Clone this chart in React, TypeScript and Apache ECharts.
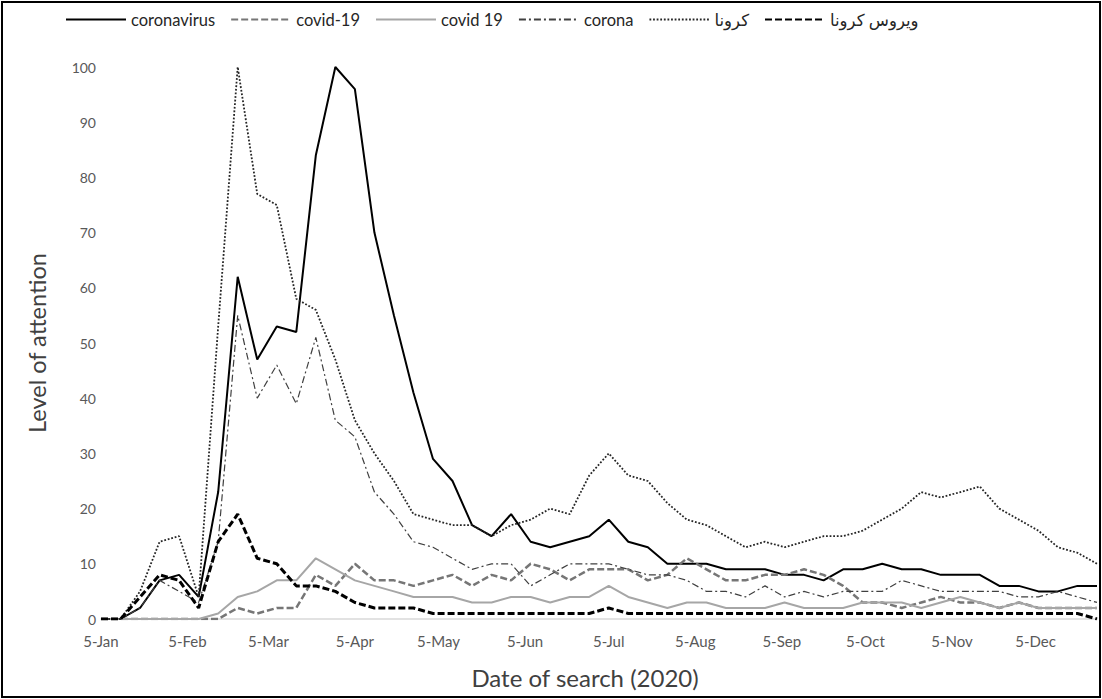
import React, { useEffect, useRef } from "react";
import * as echarts from "echarts";

const weeks = [
  "2020-01-05", "2020-01-12", "2020-01-19", "2020-01-26",
  "2020-02-02", "2020-02-09", "2020-02-16", "2020-02-23",
  "2020-03-01", "2020-03-08", "2020-03-15", "2020-03-22", "2020-03-29",
  "2020-04-05", "2020-04-12", "2020-04-19", "2020-04-26",
  "2020-05-03", "2020-05-10", "2020-05-17", "2020-05-24", "2020-05-31",
  "2020-06-07", "2020-06-14", "2020-06-21", "2020-06-28",
  "2020-07-05", "2020-07-12", "2020-07-19", "2020-07-26",
  "2020-08-02", "2020-08-09", "2020-08-16", "2020-08-23", "2020-08-30",
  "2020-09-06", "2020-09-13", "2020-09-20", "2020-09-27",
  "2020-10-04", "2020-10-11", "2020-10-18", "2020-10-25",
  "2020-11-01", "2020-11-08", "2020-11-15", "2020-11-22", "2020-11-29",
  "2020-12-06", "2020-12-13", "2020-12-20", "2020-12-27",
];

const tickDates = [
  "2020-01-05", "2020-02-05", "2020-03-05", "2020-04-05", "2020-05-05", "2020-06-05",
  "2020-07-05", "2020-08-05", "2020-09-05", "2020-10-05", "2020-11-05", "2020-12-05",
];
const tickLabels = [
  "5-Jan", "5-Feb", "5-Mar", "5-Apr", "5-May", "5-Jun",
  "5-Jul", "5-Aug", "5-Sep", "5-Oct", "5-Nov", "5-Dec",
];

const coronavirus = [0, 0, 2, 7, 8, 4, 23, 62, 47, 53, 52, 84, 100, 96, 70, 55, 41, 29, 25, 17, 15, 19, 14, 13, 14, 15, 18, 14, 13, 10, 10, 10, 9, 9, 9, 8, 8, 7, 9, 9, 10, 9, 9, 8, 8, 8, 6, 6, 5, 5, 6, 6];
const covidDash19 = [0, 0, 0, 0, 0, 0, 0, 2, 1, 2, 2, 8, 6, 10, 7, 7, 6, 7, 8, 6, 8, 7, 10, 9, 7, 9, 9, 9, 7, 8, 11, 9, 7, 7, 8, 8, 9, 8, 6, 3, 3, 2, 3, 4, 3, 3, 2, 3, 2, 2, 2, 2];
const covidSpace19 = [0, 0, 0, 0, 0, 0, 1, 4, 5, 7, 7, 11, 9, 7, 6, 5, 4, 4, 4, 3, 3, 4, 4, 3, 4, 4, 6, 4, 3, 2, 3, 3, 2, 2, 2, 3, 2, 2, 2, 3, 3, 3, 2, 3, 4, 3, 2, 3, 2, 2, 2, 2];
const corona = [0, 0, 2, 7, 5, 3, 14, 55, 40, 46, 39, 51, 36, 33, 23, 19, 14, 13, 11, 9, 10, 10, 6, 8, 10, 10, 10, 9, 8, 8, 7, 5, 5, 4, 6, 4, 5, 4, 5, 5, 5, 7, 6, 5, 5, 5, 5, 4, 4, 5, 4, 3];
const koronaAr = [0, 0, 5, 14, 15, 4, 53, 100, 77, 75, 58, 56, 47, 36, 30, 25, 19, 18, 17, 17, 15, 17, 18, 20, 19, 26, 30, 26, 25, 21, 18, 17, 15, 13, 14, 13, 14, 15, 15, 16, 18, 20, 23, 22, 23, 24, 20, 18, 16, 13, 12, 10];
const virusKoronaAr = [0, 0, 4, 8, 7, 2, 14, 19, 11, 10, 6, 6, 5, 3, 2, 2, 2, 1, 1, 1, 1, 1, 1, 1, 1, 1, 2, 1, 1, 1, 1, 1, 1, 1, 1, 1, 1, 1, 1, 1, 1, 1, 1, 1, 1, 1, 1, 1, 1, 1, 1, 0];

const seriesNames = ["coronavirus", "covid-19", "covid 19", "corona", "كرونا", "ويروس كرونا"];

const DAY = 86400000;
const origin = Date.parse(weeks[0]);
const dayOffset = (d: string) => Math.round((Date.parse(d) - origin) / DAY);
const tickOffsets = tickDates.map(dayOffset);
const weekOffsets = weeks.map(dayOffset);

const FONT = "Lato, 'DejaVu Sans', sans-serif";

export default function App() {
  const ref = useRef<HTMLDivElement>(null);
  useEffect(() => {
    if (!ref.current) return;
    const chart = echarts.init(ref.current, undefined, { renderer: "svg" });
    const mk = (vals: number[]) => vals.map((v, i) => [weekOffsets[i], v]);
    const styles = [
      { color: "#000000", width: 2, type: "solid" as any },
      { color: "#767676", width: 2.5, type: [7, 3] as any },
      { color: "#a6a6a6", width: 2, type: "solid" as any },
      { color: "#404040", width: 1.2, type: [7, 3, 2, 3] as any },
      { color: "#262626", width: 1.8, type: [1.8, 1.8] as any },
      { color: "#000000", width: 3, type: [7, 3] as any },
    ];
    const datas = [coronavirus, covidDash19, covidSpace19, corona, koronaAr, virusKoronaAr];
    chart.setOption({
      animation: false,
      backgroundColor: "#ffffff",
      textStyle: { fontFamily: FONT },
      legend: {
        top: 6,
        left: 60,
        itemWidth: 60,
        itemHeight: 14,
        itemGap: 15,
        itemStyle: { opacity: 0 },
        textStyle: { fontSize: 16.5, color: "#262626", fontFamily: FONT },
        data: seriesNames,
      },
      grid: { left: 101, right: 5, top: 67, bottom: 80 },
      xAxis: {
        type: "value",
        min: 0,
        max: weekOffsets[weekOffsets.length - 1],
        splitLine: { show: false },
        axisTick: { show: false },
        axisLine: { show: true, lineStyle: { color: "#d9d9d9", width: 1.5 } },
        axisLabel: {
          customValues: tickOffsets,
          margin: 14,
          fontSize: 15,
          color: "#595959",
          fontFamily: FONT,
          formatter: (v: number) => {
            const idx = tickOffsets.indexOf(Math.round(v));
            return idx >= 0 ? tickLabels[idx] : "";
          },
        },
      },
      yAxis: {
        type: "value",
        min: 0,
        max: 100,
        interval: 10,
        splitLine: { show: false },
        axisLine: { show: false },
        axisTick: { show: false },
        axisLabel: { margin: 5, fontSize: 14, color: "#595959", fontFamily: FONT },
      },
      series: seriesNames.map((name, k) => ({
        name,
        type: "line",
        data: mk(datas[k]),
        showSymbol: false,
        symbol: "none",
        lineStyle: styles[k],
        itemStyle: { color: styles[k].color },
        emphasis: { disabled: true },
      })),
      graphic: [
        {
          type: "rect",
          shape: { x: 2, y: 2, width: 1098, height: 695 },
          style: { fill: "none", stroke: "#000000", lineWidth: 2 },
          silent: true,
        },
        {
          type: "text",
          x: 585,
          y: 677,
          style: {
            text: "Date of search (2020)",
            fontSize: 24,
            fill: "#404040",
            fontFamily: FONT,
            align: "center",
            verticalAlign: "middle",
          },
        },
        {
          type: "text",
          x: 37,
          y: 343,
          rotation: Math.PI / 2,
          style: {
            text: "Level of attention",
            fontSize: 23.5,
            fill: "#404040",
            fontFamily: FONT,
            align: "center",
            verticalAlign: "middle",
          },
        },
      ],
    });
    return () => chart.dispose();
  }, []);
  return (
    <div
      ref={ref}
      style={{ position: "absolute", left: 0, top: 0, width: 1102, height: 699, background: "#fff" }}
    />
  );
}
